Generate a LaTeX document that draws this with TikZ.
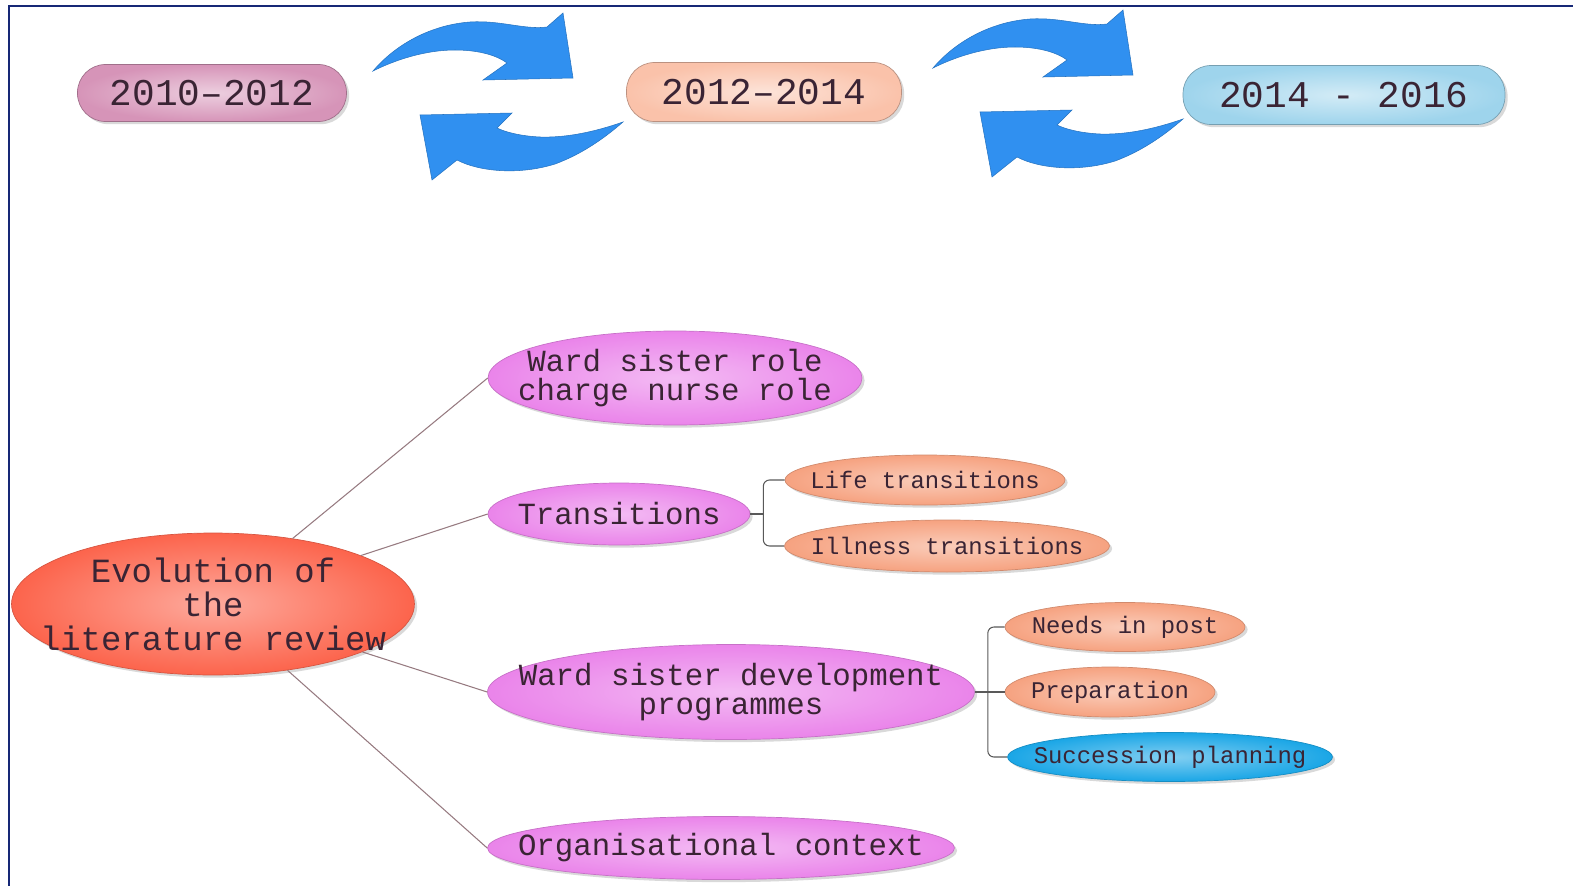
\documentclass[tikz,border=0pt]{standalone}
\usepackage{fontspec}
\setmainfont{Liberation Mono}
\usetikzlibrary{shapes.geometric,shadows}

\definecolor{rootred}{RGB}{252,100,76}
\definecolor{pinknode}{RGB}{234,132,234}
\definecolor{peachnode}{RGB}{246,162,128}
\definecolor{bluenode}{RGB}{26,166,230}
\definecolor{mauvepill}{RGB}{214,148,184}
\definecolor{peachpill}{RGB}{250,194,170}
\definecolor{skypill}{RGB}{158,212,236}
\definecolor{arrowblue}{RGB}{48,144,240}
\definecolor{framenavy}{RGB}{22,40,118}
\definecolor{inkdark}{RGB}{58,36,52}
\definecolor{linkgrey}{RGB}{150,122,128}

\begin{document}
\begin{tikzpicture}[x=0.02cm, y=-0.02cm,
    every node/.style={text=inkdark, align=center},
    softshadow/.style={drop shadow={shadow xshift=1.5pt, shadow yshift=-1.5pt, opacity=0.25, fill=black!60}},
    pill/.style={rectangle, rounded corners=0.56cm, inner sep=0pt, draw=#1!75!black,
        inner color=#1!45!white, outer color=#1, softshadow,
        font=\fontsize{21.5}{24}\selectfont},
    bubble/.style={ellipse, inner xsep=-4cm, inner ysep=0pt, draw=#1!85!black,
        inner color=#1!55!white, outer color=#1, softshadow},
    topic/.style={font=\fontsize{17.5}{17}\selectfont},
    subtopic/.style={font=\fontsize{13.6}{16}\selectfont},
    link/.style={draw=linkgrey, line width=0.6pt},
    branch/.style={draw=black!65, line width=0.6pt},
    cycle arrow/.style={fill=arrowblue, draw=arrowblue!80!black, line width=0.3pt}
]
\useasboundingbox (0,0) rectangle (1573,886);

% frame
\draw[framenavy, line width=1.7pt] (9,886) -- (9,6) -- (1573,6);

% timeline
\node[pill=mauvepill, minimum width=5.38cm, minimum height=1.14cm] (p1) at (212,93) {2010–2012};
\node[pill=peachpill, minimum width=5.5cm, minimum height=1.18cm] (p2) at (764,92) {2012–2014};
\node[pill=skypill, minimum width=6.44cm, minimum height=1.18cm] (p3) at (1344,95) {2014 - 2016};

% refresh arrows between the periods
\foreach \dx/\dy in {0/0, 560/-3} {
  \begin{scope}[shift={(\dx,\dy)}]
    \draw[cycle arrow] (373,71) .. controls (395,45) and (430,25) .. (470,22)
        .. controls (500,20) and (525,30) .. (547,27) -- (563,13) -- (573,78) -- (483,80) -- (507,63)
        .. controls (495,54) and (475,50) .. (455,50) .. controls (425,50) and (395,60) .. cycle;
    \draw[cycle arrow] (623,122) .. controls (600,130) and (570,138) .. (540,137)
        .. controls (520,136) and (505,132) .. (497,128) -- (512,113) -- (420,115) -- (432,180) -- (457,160)
        .. controls (480,172) and (520,175) .. (555,164) .. controls (585,153) and (608,135) .. cycle;
  \end{scope}
}

% mind map
\node[bubble=rootred, minimum width=8.06cm, minimum height=2.84cm,
      font=\fontsize{19.3}{19.3}\selectfont] (root) at (213,604) {Evolution of\\the\\literature review};

\node[bubble=pinknode, topic, minimum width=7.48cm, minimum height=1.88cm] (ward) at (675,378) {Ward sister role\\charge nurse role};
\node[bubble=pinknode, topic, minimum width=5.24cm, minimum height=1.24cm] (trans) at (619,514) {Transitions};
\node[bubble=pinknode, topic, minimum width=9.74cm, minimum height=1.9cm] (wsdp) at (731,692) {Ward sister development\\programmes};
\node[bubble=pinknode, topic, minimum width=9.34cm, minimum height=1.26cm] (org) at (721,848) {Organisational context};

\node[bubble=peachnode, subtopic, minimum width=5.6cm, minimum height=1cm] (life) at (925,480) {Life transitions};
\node[bubble=peachnode, subtopic, minimum width=6.5cm, minimum height=1.04cm] (ill) at (947,546) {Illness transitions};
\node[bubble=peachnode, subtopic, minimum width=4.8cm, minimum height=0.98cm] (needs) at (1125,627) {Needs in post};
\node[bubble=peachnode, subtopic, minimum width=4.2cm, minimum height=1cm] (prep) at (1110,692) {Preparation};
\node[bubble=bluenode, subtopic, minimum width=6.5cm, minimum height=0.98cm] (succ) at (1170,757) {Succession planning};

% links from the root
\draw[link] (root) -- (ward.west);
\draw[link] (root) -- (trans.west);
\draw[link] (root) -- (wsdp.west);
\draw[link] (root) -- (org.west);

% brackets to the sub topics
\draw[branch] (trans.east) -- ++(13,0) coordinate (tj);
\draw[branch, rounded corners=3.5pt] (tj) |- (life.west);
\draw[branch, rounded corners=3.5pt] (tj) |- (ill.west);
\draw[branch] (wsdp.east) -- ++(13,0) coordinate (wj) -- (prep.west);
\draw[branch, rounded corners=3.5pt] (wj) |- (needs.west);
\draw[branch, rounded corners=3.5pt] (wj) |- (succ.west);
\end{tikzpicture}
\end{document}
